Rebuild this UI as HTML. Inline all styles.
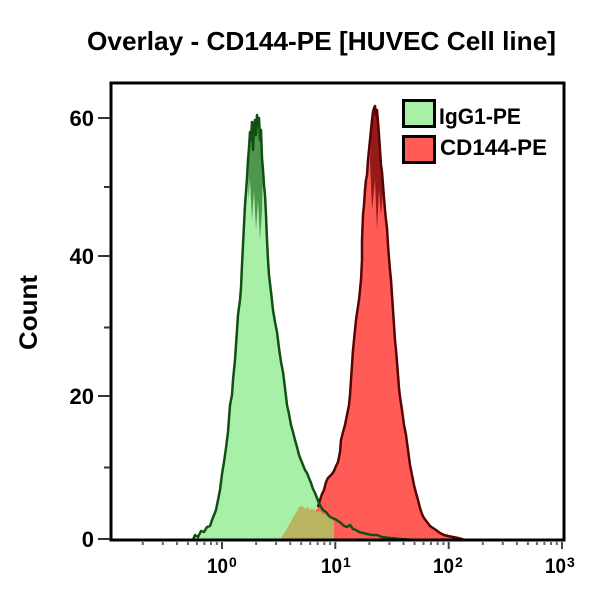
<!DOCTYPE html>
<html>
<head>
<meta charset="utf-8">
<style>
  html,body{margin:0;padding:0;background:#fff;}
  svg{display:block;}
  text{font-family:"Liberation Sans", Arial, sans-serif;font-weight:bold;fill:#000;}
</style>
</head>
<body>
<svg width="600" height="600" viewBox="0 0 600 600" xmlns="http://www.w3.org/2000/svg">
  <rect x="0" y="0" width="600" height="600" fill="#fff"/>

  <!-- Title -->
  <text x="87" y="50" font-size="26" textLength="469" lengthAdjust="spacingAndGlyphs">Overlay - CD144-PE [HUVEC Cell line]</text>

  <!-- Y label -->
  <text transform="translate(37,312.5) rotate(-90)" text-anchor="middle" font-size="25" textLength="75" lengthAdjust="spacingAndGlyphs">Count</text>

  <!-- Histograms -->
  <polygon fill="#a8f0a8" points="193,540 195,535 198,537 201,531 204,532 207,527 210,526 212,520 214,515 216,510 218,500 220,490 222,474 224,462 226,448 228,432 230,405 232,395 233,380 235,360 236,345 237,330 238,315 240,300 241,288 242,265 243,245 244,225 245,205 246,192 247,178 248,160 249,148 250,132 251,140 252,122 253,150 254,128 255,120 256,135 257,115 258,125 259,118 260,140 261,130 262,158 263,170 264,185 265,195 266,215 267,240 268,260 269,275 271,292 273,310 275,322 277,332 279,348 281,362 283,372 285,388 287,405 289,414 291,425 293,432 295,440 297,447 299,455 301,460 303,465 305,470 307,473 309,478 311,483 313,489 315,493 317,498 319,503 321,507 323,510 326,512 329,516 332,518 335,519 338,521 341,523 344,526 347,527 350,525 353,529 356,530 359,532 363,533 367,534 372,535 377,535 382,537 390,538 400,539 415,540"/>

  <polygon fill="#ff5c58" points="281,540 284,534 288,527 292,520 296,513 300,506 303,511 306,508 309,512 312,509 315,512 318,507 320,500 322,494 324,490 326,482 328,478 330,476 332,474 334,471 336,466 338,462 340,452 341,440 343,432 345,425 347,415 349,405 350,395 351,380 352,365 353,350 354,340 355,330 356,320 357,313 359,300 360,290 361,280 362,260 362,240 363,215 364,205 365,190 366,180 367,175 368,160 369,150 370,140 371,130 372,120 373,112 374,108 375,106 376,115 377,110 378,122 379,135 380,150 381,165 382,172 383,185 384,198 385,210 386,220 387,228 388,245 389,258 390,270 391,280 392,295 393,310 394,325 395,340 396,350 397,362 398,375 399,388 400,397 402,410 404,425 406,435 408,450 410,465 412,475 414,485 416,493 418,500 420,508 422,514 424,518 427,522 430,526 433,528 436,530 440,533 444,535 448,536 453,537 458,538 465,540"/>

  <polygon fill="#b8b460" points="280,540 283,535 287,529 291,522 295,515 299,508 302,506 305,509 308,507 311,511 314,509 317,512 320,511 323,514 326,514 329,517 332,519 334,522 334,540"/>

  <!-- dark peak cores -->
  <polygon fill="#2f7a2f" opacity="0.75" points="250,135 252,122 255,120 257,115 259,118 261,130 263,170 262,210 260,240 258,200 256,230 254,190 252,220 250,180 248,200 249,160"/>
  <polygon fill="#7a0a0a" opacity="0.8" points="372,120 375,106 378,122 381,165 383,190 381,215 379,190 377,230 375,180 372,210 370,160 371,140"/>

  <!-- outlines -->
  <polyline fill="none" stroke="#560404" stroke-width="2.5" stroke-linejoin="round" points="318,507 320,500 322,494 324,490 326,482 328,478 330,476 332,474 334,471 336,466 338,462 340,452 341,440 343,432 345,425 347,415 349,405 350,395 351,380 352,365 353,350 354,340 355,330 356,320 357,313 359,300 360,290 361,280 362,260 362,240 363,215 364,205 365,190 366,180 367,175 368,160 369,150 370,140 371,130 372,120 373,112 374,108 375,106 376,115 377,110 378,122 379,135 380,150 381,165 382,172 383,185 384,198 385,210 386,220 387,228 388,245 389,258 390,270 391,280 392,295 393,310 394,325 395,340 396,350 397,362 398,375 399,388 400,397 402,410 404,425 406,435 408,450 410,465 412,475 414,485 416,493 418,500 420,508 422,514 424,518 427,522 430,526 433,528 436,530 440,533 444,535 448,536 453,537 458,538 465,540"/>

  <polyline fill="none" stroke="#124f12" stroke-width="2.5" stroke-linejoin="round" points="193,540 195,535 198,537 201,531 204,532 207,527 210,526 212,520 214,515 216,510 218,500 220,490 222,474 224,462 226,448 228,432 230,405 232,395 233,380 235,360 236,345 237,330 238,315 240,300 241,288 242,265 243,245 244,225 245,205 246,192 247,178 248,160 249,148 250,132 251,140 252,122 253,150 254,128 255,120 256,135 257,115 258,125 259,118 260,140 261,130 262,158 263,170 264,185 265,195 266,215 267,240 268,260 269,275 271,292 273,310 275,322 277,332 279,348 281,362 283,372 285,388 287,405 289,414 291,425 293,432 295,440 297,447 299,455 301,460 303,465 305,470 307,473 309,478 311,483 313,489 315,493 317,498 319,503 321,507 323,510 326,512 329,516 332,518 335,519 338,521 341,523 344,526 347,527 350,525 353,529 356,530 359,532 363,533 367,534 372,535 377,535 382,537 390,538 400,539 415,540"/>

  <!-- Frame -->
  <rect x="111" y="83" width="453" height="457" fill="none" stroke="#000" stroke-width="3"/>

  <!-- Y ticks -->
  <g stroke="#333" stroke-width="2">
    <line x1="98" y1="539" x2="110" y2="539"/>
    <line x1="98" y1="396" x2="110" y2="396"/>
    <line x1="98" y1="256" x2="110" y2="256"/>
    <line x1="98" y1="118" x2="110" y2="118"/>
    <line x1="104" y1="467.5" x2="110" y2="467.5"/>
    <line x1="104" y1="327.5" x2="110" y2="327.5"/>
    <line x1="104" y1="187" x2="110" y2="187"/>
  </g>
  <g font-size="22" text-anchor="end">
    <text x="94" y="547">0</text>
    <text x="94" y="404">20</text>
    <text x="94" y="264">40</text>
    <text x="94" y="126">60</text>
  </g>

  <!-- X ticks -->
  <g stroke="#444" stroke-width="2">
    <line x1="222" y1="542" x2="222" y2="549"/>
    <line x1="335.3" y1="542" x2="335.3" y2="549"/>
    <line x1="448.7" y1="542" x2="448.7" y2="549"/>
    <line x1="562" y1="542" x2="562" y2="549"/>
  </g>
  <g stroke="#666" stroke-width="2">
    <line x1="142.8" y1="542" x2="142.8" y2="545"/>
    <line x1="162.8" y1="542" x2="162.8" y2="545"/>
    <line x1="176.9" y1="542" x2="176.9" y2="545"/>
    <line x1="187.9" y1="542" x2="187.9" y2="545"/>
    <line x1="196.9" y1="542" x2="196.9" y2="545"/>
    <line x1="204.4" y1="542" x2="204.4" y2="545"/>
    <line x1="211" y1="542" x2="211" y2="545"/>
    <line x1="216.8" y1="542" x2="216.8" y2="545"/>
    <line x1="256.1" y1="542" x2="256.1" y2="545"/>
    <line x1="276.1" y1="542" x2="276.1" y2="545"/>
    <line x1="290.2" y1="542" x2="290.2" y2="545"/>
    <line x1="301.2" y1="542" x2="301.2" y2="545"/>
    <line x1="310.2" y1="542" x2="310.2" y2="545"/>
    <line x1="317.7" y1="542" x2="317.7" y2="545"/>
    <line x1="324.3" y1="542" x2="324.3" y2="545"/>
    <line x1="330.1" y1="542" x2="330.1" y2="545"/>
    <line x1="369.4" y1="542" x2="369.4" y2="545"/>
    <line x1="389.4" y1="542" x2="389.4" y2="545"/>
    <line x1="403.5" y1="542" x2="403.5" y2="545"/>
    <line x1="414.5" y1="542" x2="414.5" y2="545"/>
    <line x1="423.5" y1="542" x2="423.5" y2="545"/>
    <line x1="431" y1="542" x2="431" y2="545"/>
    <line x1="437.6" y1="542" x2="437.6" y2="545"/>
    <line x1="443.4" y1="542" x2="443.4" y2="545"/>
    <line x1="482.8" y1="542" x2="482.8" y2="545"/>
    <line x1="502.8" y1="542" x2="502.8" y2="545"/>
    <line x1="516.9" y1="542" x2="516.9" y2="545"/>
    <line x1="527.9" y1="542" x2="527.9" y2="545"/>
    <line x1="536.9" y1="542" x2="536.9" y2="545"/>
    <line x1="544.4" y1="542" x2="544.4" y2="545"/>
    <line x1="551" y1="542" x2="551" y2="545"/>
    <line x1="556.8" y1="542" x2="556.8" y2="545"/>
  </g>
  <g font-size="21">
    <text x="207" y="573" textLength="21" lengthAdjust="spacingAndGlyphs">10</text>
    <text x="229" y="567" font-size="14">0</text>
    <text x="321" y="573" textLength="21" lengthAdjust="spacingAndGlyphs">10</text>
    <text x="343" y="567" font-size="14">1</text>
    <text x="433" y="573" textLength="21" lengthAdjust="spacingAndGlyphs">10</text>
    <text x="455" y="567" font-size="14">2</text>
    <text x="545" y="573" textLength="21" lengthAdjust="spacingAndGlyphs">10</text>
    <text x="567" y="567" font-size="14">3</text>
  </g>

  <!-- Legend -->
  <rect x="403.5" y="100.5" width="31" height="26" fill="#a8f0a8" stroke="#000" stroke-width="3"/>
  <rect x="403.5" y="136.5" width="31" height="26" fill="#ff5c58" stroke="#000" stroke-width="3"/>
  <text x="439" y="124" font-size="22" textLength="82" lengthAdjust="spacingAndGlyphs">IgG1-PE</text>
  <text x="440" y="155" font-size="22" textLength="107" lengthAdjust="spacingAndGlyphs">CD144-PE</text>
</svg>
</body>
</html>
